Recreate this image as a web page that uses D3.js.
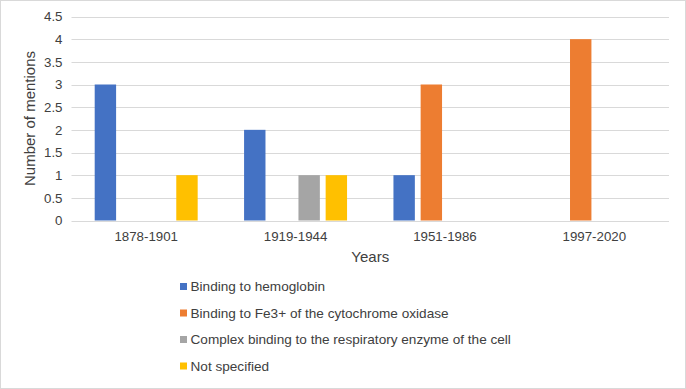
<!DOCTYPE html>
<html>
<head>
<meta charset="utf-8">
<script src="https://cdn.jsdelivr.net/npm/d3@7"></script>
<style>
  body { margin: 0; background: #fff; }
  text { font-family: "Liberation Sans", Arial, sans-serif; fill: #404040; }
</style>
</head>
<body>
<div id="chart"></div>
<script>
// Data
let periods = ["1878-1901", "1919-1944", "1951-1986", "1997-2020"];
let seriesNames = [
  "Binding to hemoglobin",
  "Binding to Fe3+ of the cytochrome oxidase",
  "Complex binding to the respiratory enzyme of the cell",
  "Not specified"
];
let hemoglobin = [3, 2, 1, 0];
let cytochrome = [0, 0, 3, 4];
let respiratory = [0, 1, 0, 0];
let notSpecified = [1, 1, 0, 0];
let yTicks = [0, 0.5, 1, 1.5, 2, 2.5, 3, 3.5, 4, 4.5];
let colors = ["#4472C4", "#ED7D31", "#A5A5A5", "#FFC000"];

let allSeries = [hemoglobin, cytochrome, respiratory, notSpecified];

// Layout
let width = 686, height = 389;
let plot = {left: 71.5, right: 669, top: 16.5, bottom: 220.5};

let svg = d3.select("#chart")
  .append("svg")
  .attr("width", width)
  .attr("height", height);

// outer border
svg.append("rect")
  .attr("x", 0.5).attr("y", 0.5)
  .attr("width", width - 1).attr("height", height - 1)
  .attr("fill", "#fff")
  .attr("stroke", "#D9D9D9");

let x0 = d3.scaleBand()
  .domain(periods)
  .range([plot.left, plot.right]);

let groupPad = 23.2;
let x1 = d3.scaleBand()
  .domain(d3.range(seriesNames.length))
  .range([groupPad, x0.bandwidth() - groupPad])
  .paddingInner(0.213);

let yScale = d3.scaleLinear()
  .domain([0, 4.5])
  .range([plot.bottom, plot.top]);

// gridlines
svg.append("g")
  .selectAll("line")
  .data(yTicks)
  .enter()
  .append("line")
  .attr("x1", plot.left)
  .attr("x2", plot.right)
  .attr("y1", d => Math.round(yScale(d)) + 0.5)
  .attr("y2", d => Math.round(yScale(d)) + 0.5)
  .attr("stroke", "#D9D9D9")
  .attr("stroke-width", 1);

// y axis labels
let yAxis = d3.axisLeft(yScale)
  .tickValues(yTicks)
  .tickSize(0)
  .tickPadding(9)
  .tickFormat(d => String(d));

let yAxisG = svg.append("g")
  .attr("transform", "translate(" + plot.left + ",0)")
  .call(yAxis);
yAxisG.select(".domain").remove();
yAxisG.selectAll("text")
  .style("font-family", "\"Liberation Sans\", Arial, sans-serif")
  .style("font-size", "13.3px")
  .attr("fill", "#404040");

// x axis labels
let xAxis = d3.axisBottom(x0).tickSize(0).tickPadding(11);
let xAxisG = svg.append("g")
  .attr("transform", "translate(0," + plot.bottom + ")")
  .call(xAxis);
xAxisG.select(".domain").remove();
xAxisG.selectAll("text")
  .style("font-family", "\"Liberation Sans\", Arial, sans-serif")
  .style("font-size", "13.3px")
  .attr("fill", "#404040");

// bars
let groups = svg.append("g")
  .selectAll("g")
  .data(periods)
  .enter()
  .append("g")
  .attr("transform", d => "translate(" + x0(d) + ",0)");

groups.selectAll("rect")
  .data((d, i) => allSeries.map((s, k) => ({k: k, v: s[i]})))
  .enter()
  .append("rect")
  .attr("x", d => x1(d.k))
  .attr("width", x1.bandwidth())
  .attr("y", d => yScale(d.v))
  .attr("height", d => yScale(0) - yScale(d.v))
  .attr("fill", d => colors[d.k]);

// axis titles
svg.append("text")
  .attr("x", (plot.left + plot.right) / 2)
  .attr("y", 262)
  .attr("text-anchor", "middle")
  .style("font-size", "15px")
  .text("Years");

svg.append("text")
  .attr("transform", "translate(34.5," + (plot.top + plot.bottom) / 2 + ") rotate(-90)")
  .attr("text-anchor", "middle")
  .style("font-size", "15px")
  .text("Number of mentions");

// legend
let legend = svg.append("g")
  .selectAll("g")
  .data(seriesNames)
  .enter()
  .append("g")
  .attr("transform", (d, i) => "translate(180," + (286.5 + i * 26.5) + ")");

legend.append("rect")
  .attr("x", 0)
  .attr("y", -3.5)
  .attr("width", 7)
  .attr("height", 7)
  .attr("fill", (d, i) => colors[i]);

legend.append("text")
  .attr("x", 10.5)
  .attr("y", 0)
  .attr("dy", "0.35em")
  .style("font-size", "13.6px")
  .text(d => d);
</script>
</body>
</html>
